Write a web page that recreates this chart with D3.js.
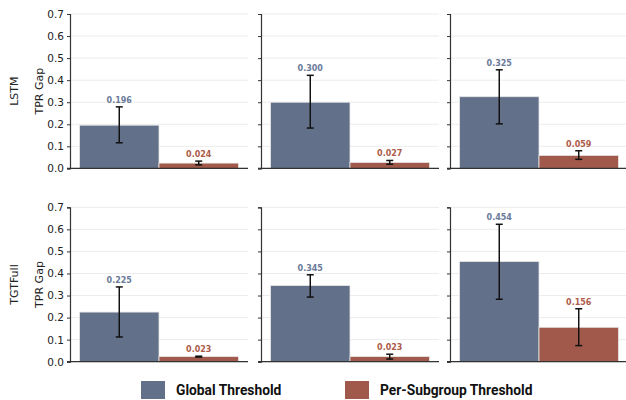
<!DOCTYPE html>
<html>
<head>
<meta charset="utf-8">
<script src="https://cdn.jsdelivr.net/npm/d3@7"></script>
<style>
  body { margin: 0; background: #fff; }
  svg { display: block; }
</style>
</head>
<body>
<svg id="chart" width="626" height="400"></svg>
<script>
// data
const rows = ["LSTM", "TGTFull"];
const series = ["Global Threshold", "Per-Subgroup Threshold"];
const yTicks = [0, 0.1, 0.2, 0.3, 0.4, 0.5, 0.6, 0.7];
const globalMean = [[0.196, 0.300, 0.325], [0.225, 0.345, 0.454]];
const globalLow  = [[0.116, 0.183, 0.202], [0.112, 0.293, 0.283]];
const globalHigh = [[0.279, 0.422, 0.447], [0.339, 0.394, 0.623]];
const subMean = [[0.024, 0.027, 0.059], [0.023, 0.023, 0.156]];
const subLow  = [[0.016, 0.019, 0.041], [0.021, 0.012, 0.073]];
const subHigh = [[0.033, 0.036, 0.080], [0.025, 0.034, 0.240]];

const fills = ["#627089", "#a0594a"];
const labelColors = ["#6b7a99", "#ad5c4a"];

var svg = d3.select("#chart");

var panelW = 178;
var colLeft = [70, 261, 450];
var rowTop = [14, 207.3];
var panelH = 154.4;

var x = d3.scaleBand().domain(series).range([0, panelW]).paddingInner(0).paddingOuter(0.12);

rows.forEach(function (rowName, r) {
    var y = d3.scaleLinear().domain([0, 0.7]).range([panelH, 0]);

    for (var c = 0; c < 3; c++) {
        var g = svg.append("g").attr("transform", "translate(" + colLeft[c] + "," + rowTop[r] + ")");

        // grid
        g.selectAll(".grid").data(yTicks).enter().append("line")
            .attr("x1", 0).attr("x2", panelW)
            .attr("y1", function (d) { return y(d); })
            .attr("y2", function (d) { return y(d); })
            .attr("stroke", "#ececec").attr("stroke-width", 1);

        var recs = [
            { s: series[0], mean: globalMean[r][c], lo: globalLow[r][c], hi: globalHigh[r][c], i: 0 },
            { s: series[1], mean: subMean[r][c], lo: subLow[r][c], hi: subHigh[r][c], i: 1 }
        ];

        g.selectAll(".bar").data(recs).enter().append("rect")
            .attr("x", function (d) { return x(d.s); })
            .attr("y", function (d) { return y(d.mean); })
            .attr("width", x.bandwidth())
            .attr("height", function (d) { return y(0) - y(d.mean); })
            .attr("fill", function (d) { return fills[d.i]; })
            .attr("stroke", "#e6e6e6").attr("stroke-width", 0.8);

        // error bars
        var eb = g.selectAll(".err").data(recs).enter().append("g");
        eb.append("line")
            .attr("x1", function (d) { return x(d.s) + x.bandwidth() / 2; })
            .attr("x2", function (d) { return x(d.s) + x.bandwidth() / 2; })
            .attr("y1", function (d) { return y(d.lo); })
            .attr("y2", function (d) { return y(d.hi); })
            .attr("stroke", "#111").attr("stroke-width", 1.5);
        ["lo", "hi"].forEach(function (k) {
            eb.append("line")
                .attr("x1", function (d) { return x(d.s) + x.bandwidth() / 2 - 3.5; })
                .attr("x2", function (d) { return x(d.s) + x.bandwidth() / 2 + 3.5; })
                .attr("y1", function (d) { return y(d[k]); })
                .attr("y2", function (d) { return y(d[k]); })
                .attr("stroke", "#111").attr("stroke-width", 1.5);
        });

        // value labels
        g.selectAll(".val").data(recs).enter().append("text")
            .attr("x", function (d) { return x(d.s) + x.bandwidth() / 2; })
            .attr("y", function (d) { return y(d.hi) - 4; })
            .attr("text-anchor", "middle")
            .attr("font-family", "DejaVu Sans")
            .attr("font-weight", "bold")
            .attr("font-size", "8px")
            .attr("fill", function (d) { return labelColors[d.i]; })
            .text(function (d) { return d.mean.toFixed(3); });

        // axes
        var yAxis = d3.axisLeft(y).tickValues(yTicks).tickSize(3).tickPadding(3)
            .tickFormat(c === 0 ? d3.format(".1f") : "");
        var ya = g.append("g").call(yAxis);
        ya.select(".domain").attr("stroke", "#333").attr("stroke-width", 1.2);
        ya.selectAll(".tick line").attr("stroke", "#333");
        ya.selectAll("text").attr("font-family", "DejaVu Sans").attr("font-size", "10.5px").attr("fill", "#222");

        g.append("line")
            .attr("x1", -3).attr("x2", panelW)
            .attr("y1", y(0)).attr("y2", y(0))
            .attr("stroke", "#333").attr("stroke-width", 1.2);
    }

    var cy = rowTop[r] + panelH / 2;
    svg.append("text")
        .attr("transform", "translate(18," + cy + ") rotate(-90)")
        .attr("text-anchor", "middle")
        .attr("font-family", "DejaVu Sans").attr("font-size", "11px").attr("fill", "#222")
        .text(rowName);
    svg.append("text")
        .attr("transform", "translate(43," + cy + ") rotate(-90)")
        .attr("text-anchor", "middle")
        .attr("font-family", "DejaVu Sans").attr("font-size", "11px").attr("fill", "#222")
        .text("TPR Gap");
});

// legend
var legX = [141, 345];
series.forEach(function (s, i) {
    svg.append("rect")
        .attr("x", legX[i]).attr("y", 381)
        .attr("width", 24).attr("height", 18)
        .attr("fill", fills[i]);
    svg.append("text")
        .attr("x", legX[i] + 35).attr("y", 394.5)
        .attr("font-family", "Roboto").attr("font-weight", "bold").attr("font-size", "13.8px")
        .attr("fill", "#111")
        .text(s);
});
</script>
</body>
</html>
